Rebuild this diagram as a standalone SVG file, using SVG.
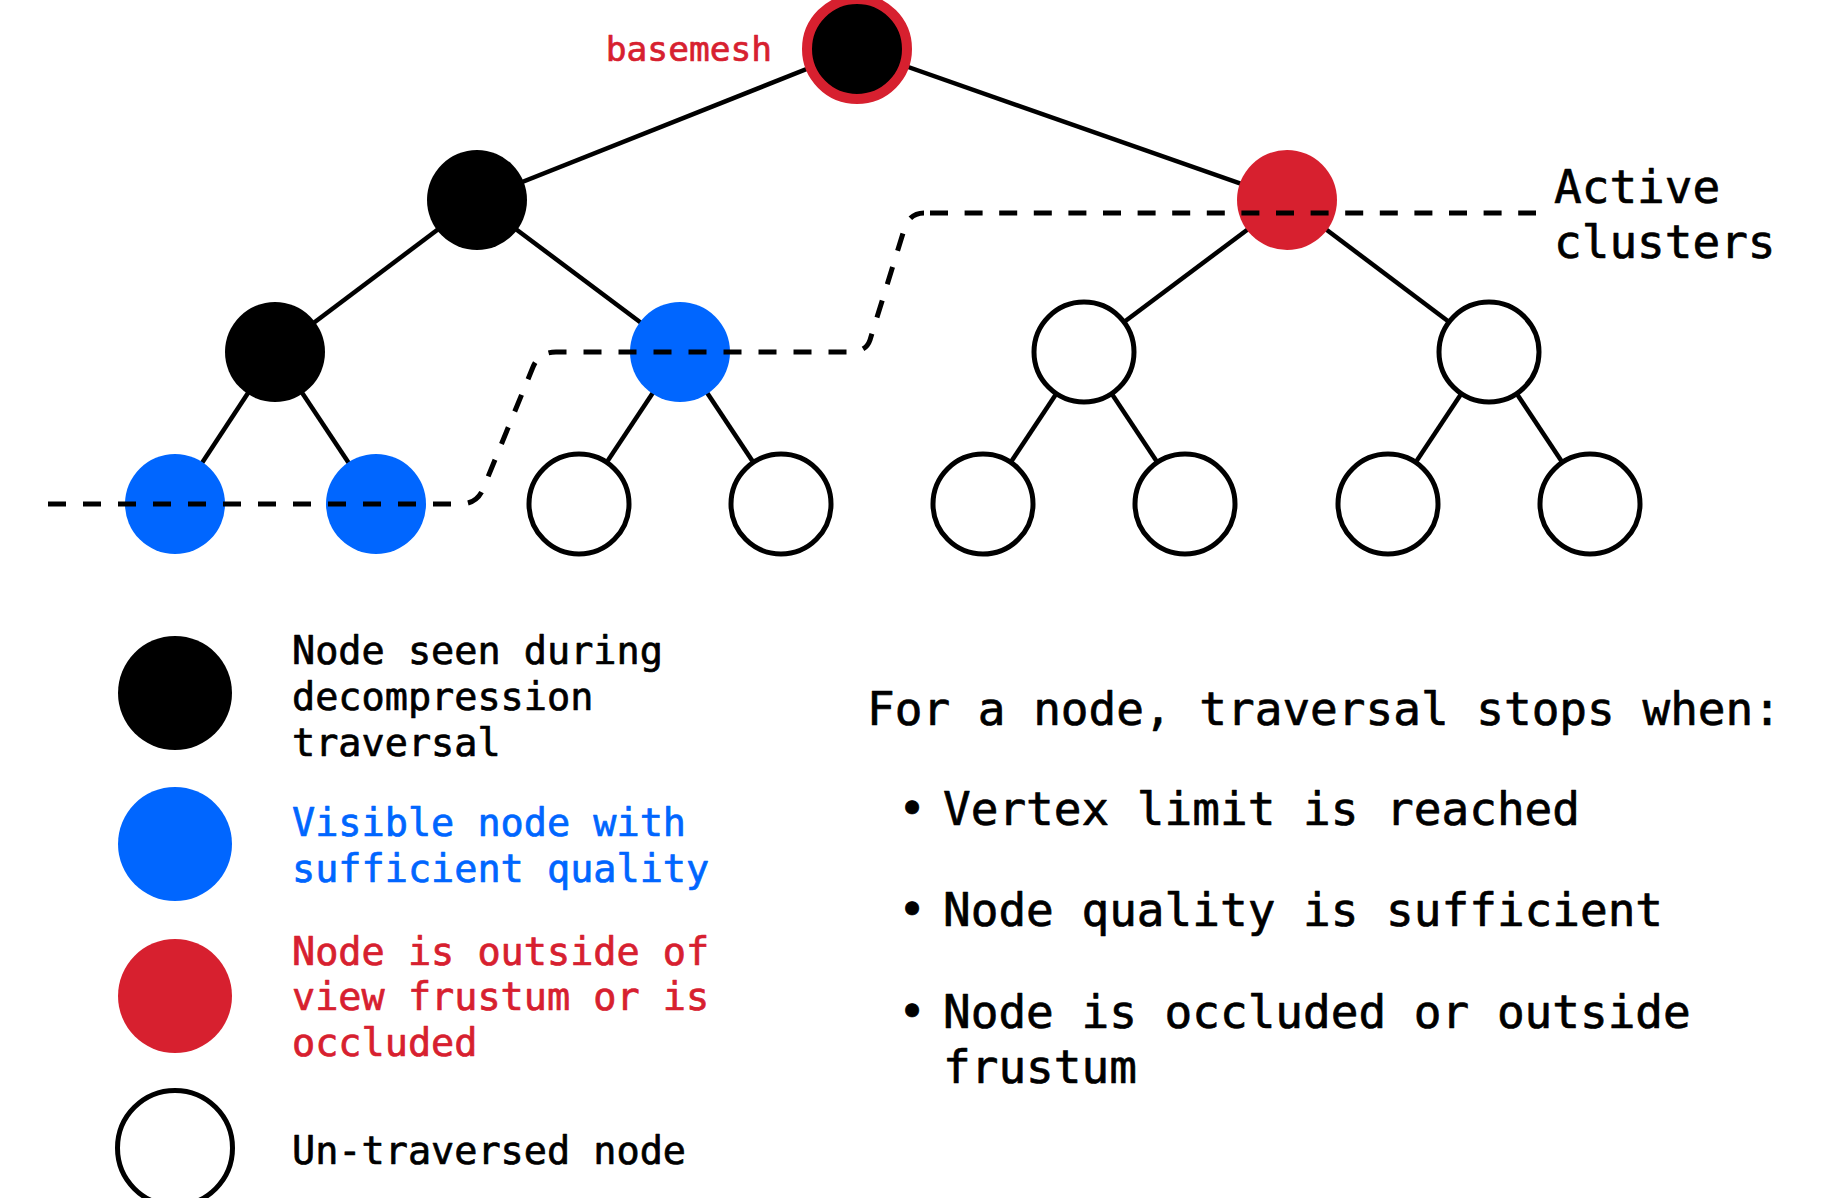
<svg xmlns="http://www.w3.org/2000/svg" width="1838" height="1198" viewBox="0 0 1838 1198">
  <style>
    text { font-family: "DejaVu Sans Mono", "Liberation Mono", monospace; stroke-width: 0.7px; stroke-linejoin: round; }
    .edge { stroke: #000; stroke-width: 4.5; fill: none; }
    .cut { stroke: #000; stroke-width: 5; fill: none; stroke-dasharray: 18 17; }
    .seen { fill: #000; }
    .visible { fill: #0066FF; }
    .culled { fill: #D7202F; }
    .open { fill: #fff; stroke: #000; stroke-width: 5; }
    .lbl { font-size: 38.5px; fill: #000; stroke: #000; }
    .big { font-size: 46px; fill: #000; stroke: #000; }
    .red { fill: #D7202F; stroke: #D7202F; }
    .blue { fill: #0066FF; stroke: #0066FF; }
  </style>

  <!-- tree edges -->
  <g id="connectors">
    <line class="edge" x1="857" y1="49" x2="477" y2="200"/>
    <line class="edge" x1="857" y1="49" x2="1287" y2="200"/>
    <line class="edge" x1="477" y1="200" x2="275" y2="352"/>
    <line class="edge" x1="477" y1="200" x2="680" y2="352"/>
    <line class="edge" x1="1287" y1="200" x2="1084" y2="352"/>
    <line class="edge" x1="1287" y1="200" x2="1489" y2="352"/>
    <line class="edge" x1="275" y1="352" x2="175" y2="504"/>
    <line class="edge" x1="275" y1="352" x2="376" y2="504"/>
    <line class="edge" x1="680" y1="352" x2="579" y2="504"/>
    <line class="edge" x1="680" y1="352" x2="781" y2="504"/>
    <line class="edge" x1="1084" y1="352" x2="983" y2="504"/>
    <line class="edge" x1="1084" y1="352" x2="1185" y2="504"/>
    <line class="edge" x1="1489" y1="352" x2="1388" y2="504"/>
    <line class="edge" x1="1489" y1="352" x2="1590" y2="504"/>
  </g>

  <!-- tree nodes -->
  <g id="root"><circle cx="857" cy="49" r="50" fill="#000" stroke="#D7202F" stroke-width="10"/></g>
  <g id="n1a"><circle class="seen" cx="477" cy="200" r="50"/></g>
  <g id="n1b"><circle class="culled" cx="1287" cy="200" r="50"/></g>
  <g id="n2a"><circle class="seen" cx="275" cy="352" r="50"/></g>
  <g id="n2b"><circle class="visible" cx="680" cy="352" r="50"/></g>
  <g id="n2c"><circle class="open" cx="1084" cy="352" r="50"/></g>
  <g id="n2d"><circle class="open" cx="1489" cy="352" r="50"/></g>
  <g id="n3a"><circle class="visible" cx="175" cy="504" r="50"/></g>
  <g id="n3b"><circle class="visible" cx="376" cy="504" r="50"/></g>
  <g id="n3c"><circle class="open" cx="579" cy="504" r="50"/></g>
  <g id="n3d"><circle class="open" cx="781" cy="504" r="50"/></g>
  <g id="n3e"><circle class="open" cx="983" cy="504" r="50"/></g>
  <g id="n3f"><circle class="open" cx="1185" cy="504" r="50"/></g>
  <g id="n3g"><circle class="open" cx="1388" cy="504" r="50"/></g>
  <g id="n3h"><circle class="open" cx="1590" cy="504" r="50"/></g>

  <!-- active cluster cut: stepped run plus the top run to the label -->
  <g id="cut">
    <path class="cut" d="M 48 504 H 460 Q 477 504 483 489 L 533 367 Q 539 352 556 352 H 850 Q 866 352 870 340 L 904 230 Q 909 213 924 213"/>
    <path class="cut" style="stroke-dasharray: 18 16.6" d="M 930 213 H 1536"/>
  </g>

  <g id="labels">
    <text class="red" x="772" y="61" font-size="34.5" text-anchor="end">basemesh</text>
    <text class="big" x="1554" y="203">Active</text>
    <text class="big" x="1554" y="258">clusters</text>
  </g>

  <!-- legend -->
  <g id="legend-seen">
    <circle class="seen" cx="175" cy="693" r="57"/>
    <text class="lbl" x="292" y="664">Node seen during</text>
    <text class="lbl" x="292" y="710">decompression</text>
    <text class="lbl" x="292" y="756">traversal</text>
  </g>
  <g id="legend-visible">
    <circle class="visible" cx="175" cy="844" r="57"/>
    <text class="lbl blue" x="292" y="836">Visible node with</text>
    <text class="lbl blue" x="292" y="882">sufficient quality</text>
  </g>
  <g id="legend-culled">
    <circle class="culled" cx="175" cy="996" r="57"/>
    <text class="lbl red" x="292" y="965">Node is outside of</text>
    <text class="lbl red" x="292" y="1010">view frustum or is</text>
    <text class="lbl red" x="292" y="1056">occluded</text>
  </g>
  <g id="legend-open">
    <circle class="open" cx="175" cy="1148" r="57.5"/>
    <text class="lbl" x="292" y="1164">Un-traversed node</text>
  </g>

  <!-- stop conditions -->
  <g id="conditions">
    <text class="big" x="867" y="725">For a node, traversal stops when:</text>
    <text class="big" x="912" y="825" font-size="60" text-anchor="middle">•</text>
    <text class="big" x="943" y="825">Vertex limit is reached</text>
    <text class="big" x="912" y="926" font-size="60" text-anchor="middle">•</text>
    <text class="big" x="943" y="926">Node quality is sufficient</text>
    <text class="big" x="912" y="1028" font-size="60" text-anchor="middle">•</text>
    <text class="big" x="943" y="1028">Node is occluded or outside</text>
    <text class="big" x="943" y="1083">frustum</text>
  </g>
</svg>
